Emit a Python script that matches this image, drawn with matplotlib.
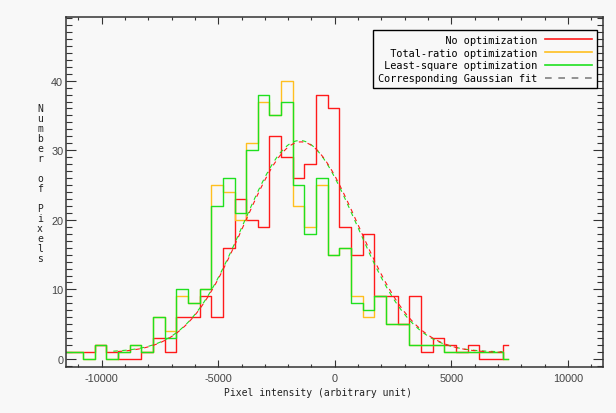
import numpy as np
import matplotlib
matplotlib.use('Agg')
import matplotlib.pyplot as plt
from matplotlib.ticker import MultipleLocator
from matplotlib.lines import Line2D

plt.rcParams['axes.unicode_minus'] = False

# histogram bin centres (pixel intensity, arbitrary unit)
bin_centres = [-11550, -11050, -10550, -10050, -9550, -9050, -8550, -8050,
               -7550, -7050, -6550, -6050, -5550, -5050, -4550, -4050,
               -3550, -3050, -2550, -2050, -1550, -1050, -550, -50,
               450, 950, 1450, 1950, 2450, 2950, 3450, 3950,
               4450, 4950, 5450, 5950, 6450, 6950, 7450]

# number of pixels per bin
no_opt = [1, 1, 1, 2, 1, 0, 0, 1, 3, 1, 6, 6, 9, 6, 16, 23, 20, 19, 32, 29,
          26, 28, 38, 36, 19, 15, 18, 9, 9, 5, 9, 1, 3, 2, 1, 2, 0, 0, 2]
total_ratio = [1, 1, 0, 2, 0, 1, 2, 1, 6, 4, 9, 8, 10, 25, 24, 20, 31, 37, 35, 40,
               22, 19, 25, 15, 16, 9, 6, 9, 5, 5, 2, 2, 2, 1, 1, 1, 1, 1, 0]
least_square = [1, 1, 0, 2, 0, 1, 2, 1, 6, 3, 10, 8, 10, 22, 26, 21, 30, 38, 35, 37,
                25, 18, 26, 15, 16, 8, 7, 9, 5, 5, 2, 2, 2, 1, 1, 1, 1, 1, 0]

# gaussian fit parameters: amplitude, mean, sigma, offset
fit_green = (30.4, -1500, 2420, 1.0)
fit_red = (30.3, -1450, 2450, 0.9)
fit_range = (-9500, 7200)

labels = ['No optimization', 'Total-ratio optimization',
          'Least-square optimization', 'Corresponding Gaussian fit']

RED = '#ff1a1a'
ORANGE = '#ffbf1f'
GREEN = '#1fe01f'
BG = '#f8f8f8'
MONO = 'DejaVu Sans Mono'


def gauss(x, p):
    a, mu, sig, c = p
    return c + a * np.exp(-(x - mu) ** 2 / (2 * sig ** 2))


fig = plt.figure(figsize=(6.16, 4.14), dpi=100, facecolor=BG)
ax = fig.add_axes([66 / 616, 1 - 368.3 / 414, (603.3 - 66) / 616, (368.3 - 18.3) / 414])
ax.set_facecolor(BG)

ax.step(bin_centres, no_opt, where='mid', color=RED, lw=1.0)
ax.step(bin_centres, total_ratio, where='mid', color=ORANGE, lw=1.0)
ax.step(bin_centres, least_square, where='mid', color=GREEN, lw=1.0)

# the two fits overlap almost exactly, dashes offset so both colours show
fx = np.linspace(fit_range[0], fit_range[1], 400)
ax.plot(fx, gauss(fx, fit_green), color=GREEN, lw=0.8, linestyle=(0, (4, 4)))
ax.plot(fx, gauss(fx, fit_red), color=RED, lw=0.8, linestyle=(4, (4, 4)))

ax.set_xlim(-11530, 11520)
ax.set_ylim(-1.19, 49.1)
ax.set_xticks([-10000, -5000, 0, 5000, 10000])
ax.set_yticks([0, 10, 20, 30, 40])
ax.xaxis.set_minor_locator(MultipleLocator(1000))
ax.yaxis.set_minor_locator(MultipleLocator(1))
ax.tick_params(which='both', direction='in', top=True, right=True,
               color='#333333', width=0.8, labelcolor='#444444')
ax.tick_params(axis='x', which='major', length=4.8, pad=4)
ax.tick_params(axis='x', which='minor', length=2.4)
ax.tick_params(axis='y', which='major', length=7.2, pad=2)
ax.tick_params(axis='y', which='minor', length=4.3)
for lab in ax.get_xticklabels() + ax.get_yticklabels():
    lab.set_fontfamily('Liberation Sans')
    lab.set_fontsize(7.8)
for sp in ax.spines.values():
    sp.set_color('#333333')
    sp.set_linewidth(1.1)

fig.text(317.5 / 616, 1 - 392.7 / 414, 'Pixel intensity (arbitrary unit)',
         family=MONO, fontsize=7, ha='center', va='center', color='#222222')
fig.text(40 / 616, 1 - 184.5 / 414, '\n'.join('Number of Pixels'),
         family=MONO, fontsize=7, ha='center', va='center', color='#222222',
         linespacing=1.0)

# legend: text right-aligned, sample line after it
width = max(len(s) for s in labels)
handles = [Line2D([], [], color=RED, lw=1.2),
           Line2D([], [], color=ORANGE, lw=1.2),
           Line2D([], [], color=GREEN, lw=1.2),
           Line2D([], [], color='#808080', lw=1.2, linestyle=(0, (4, 4)))]
leg = ax.legend(handles, [s.rjust(width) for s in labels],
                loc='upper right', bbox_to_anchor=(597 / 616, 1 - 31 / 414),
                bbox_transform=fig.transFigure, markerfirst=False,
                prop={'family': MONO, 'size': 7.4}, handlelength=4.6,
                handletextpad=0.8, labelspacing=0.28, borderpad=0.45,
                borderaxespad=0, fancybox=False, framealpha=1,
                facecolor=BG, edgecolor='black')
leg.get_frame().set_linewidth(1.0)

plt.savefig('out.png', dpi=100, facecolor=BG)
